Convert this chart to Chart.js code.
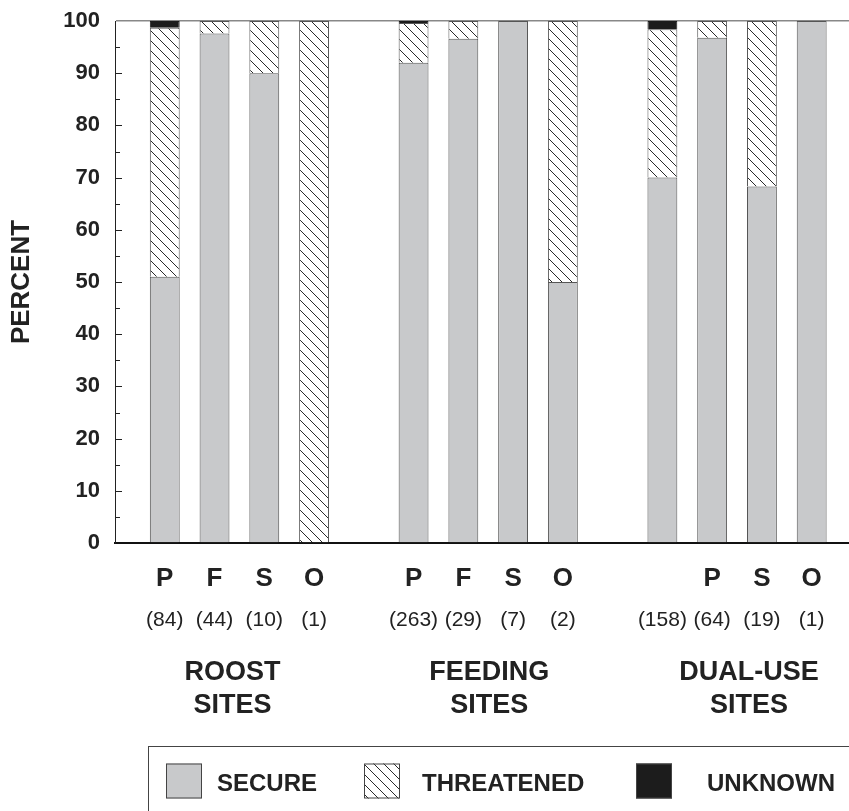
<!DOCTYPE html>
<html>
<head>
<meta charset="utf-8">
<script src="https://cdn.jsdelivr.net/npm/chart.js@4.4.1/dist/chart.umd.min.js"></script>
<style>
	body { margin: 0; background: #fff; }
	#wrap { width: 849px; height: 811px; }
</style>
</head>
<body>
<div id="wrap"><canvas id="canvasSites" width="849" height="811"></canvas></div>
<script>
"use strict";

// values (percent of sites)
var groups = ['ROOST SITES', 'FEEDING SITES', 'DUAL-USE SITES'];
var letters = ['P', 'F', 'S', 'O', 'P', 'F', 'S', 'O', '', 'P', 'S', 'O'];
var counts = [84, 44, 10, 1, 263, 29, 7, 2, 158, 64, 19, 1];
var secure = [51, 97.6, 90, 0, 92, 96.6, 100, 50, 70, 96.8, 68.3, 100];
var threatened = [47.7, 2.4, 10, 100, 7.6, 3.4, 0, 50, 28.4, 3.2, 31.7, 0];
var unknown = [1.3, 0, 0, 0, 0.4, 0, 0, 0, 1.6, 0, 0, 0];
var yTicks = [0, 10, 20, 30, 40, 50, 60, 70, 80, 90, 100];

var perGroup = 4;
var textColor = '#222';
var fontFamily = '"Liberation Sans", Arial, Helvetica, sans-serif';

// slot of each bar on the x axis, one empty slot between groups
function SlotOf(index) {
	var g = Math.floor(index / perGroup);
	return g * (perGroup + 1) + (index % perGroup) + 1;
}

function Each(list, fn) {
	for (var i = 0; i < list.length; i++) fn(i, list[i]);
}

function ToPoints(values) {
	var points = [];
	Each(values, function (i, v) {
		points.push({ x: SlotOf(i), y: v });
	});
	return points;
}

function MakeHatch() {
	var c = document.createElement('canvas');
	c.width = 10;
	c.height = 10;
	var g = c.getContext('2d');
	g.fillStyle = '#fff';
	g.fillRect(0, 0, 10, 10);
	g.strokeStyle = '#2a2a2a';
	g.lineWidth = 1;
	g.beginPath();
	g.moveTo(-1, -1); g.lineTo(11, 11);
	g.moveTo(-1, 9); g.lineTo(1, 11);
	g.moveTo(9, -1); g.lineTo(11, 1);
	g.stroke();
	return g.createPattern(c, 'repeat');
}

var hatch = MakeHatch();
var secureColor = '#c8c9cb';
var unknownColor = '#1c1c1c';

// inner tick marks on the y axis, every 5 percent
var innerTicks = {
	id: 'innerTicks',
	afterDatasetsDraw: function (chart) {
		var ctx = chart.ctx;
		var y = chart.scales.y;
		var x0 = chart.chartArea.left;
		ctx.save();
		ctx.strokeStyle = '#222';
		ctx.lineWidth = 1;
		for (var v = 5; v < 100; v += 5) {
			var py = Math.round(y.getPixelForValue(v)) + 0.5;
			ctx.beginPath();
			ctx.moveTo(x0, py);
			ctx.lineTo(x0 + (v % 10 === 0 ? 7 : 5), py);
			ctx.stroke();
		}
		ctx.restore();
	}
};

// letters, sample sizes, group names and the boxed legend under the plot
var labelShift = [-7, 1, 12];
var underLabels = {
	id: 'underLabels',
	afterDraw: function (chart) {
		var ctx = chart.ctx;
		var xs = chart.scales.x;
		var bottom = chart.chartArea.bottom;
		ctx.save();
		ctx.fillStyle = textColor;
		ctx.textAlign = 'center';
		ctx.textBaseline = 'alphabetic';

		Each(letters, function (i, l) {
			var px = xs.getPixelForValue(SlotOf(i));
			ctx.font = 'bold 26px ' + fontFamily;
			ctx.fillText(l, px, bottom + 43);
			ctx.font = '21px ' + fontFamily;
			ctx.fillText('(' + counts[i] + ')', px, bottom + 83);
		});

		ctx.font = 'bold 27px ' + fontFamily;
		Each(groups, function (g, name) {
			var a = xs.getPixelForValue(SlotOf(g * perGroup));
			var b = xs.getPixelForValue(SlotOf(g * perGroup + perGroup - 1));
			var words = name.split(' ');
			var cx = (a + b) / 2 + labelShift[g];
			ctx.fillText(words[0], cx, bottom + 137);
			ctx.fillText(words[1], cx, bottom + 170);
		});

		// legend box
		var boxTop = bottom + 203.5;
		ctx.strokeStyle = '#444';
		ctx.lineWidth = 1;
		ctx.strokeRect(148.5, boxTop, chart.width, 100);

		var swatchX = [166, 364, 636];
		var legendTextX = [217, 422, 707];
		ctx.textAlign = 'left';
		ctx.font = 'bold 24px ' + fontFamily;
		Each(chart.data.datasets, function (i, ds) {
			var sx = swatchX[i];
			ctx.fillStyle = ds.backgroundColor;
			ctx.fillRect(sx, boxTop + 17, 36, 35);
			ctx.strokeStyle = '#444';
			ctx.strokeRect(sx + 0.5, boxTop + 17.5, 35, 34);
			ctx.fillStyle = textColor;
			ctx.fillText(ds.label, legendTextX[i], boxTop + 44);
		});
		ctx.restore();
	}
};

var context = document.getElementById('canvasSites');
var myChart = new Chart(context, {
	type: 'bar',
	data: {
		datasets: [{
			label: 'SECURE',
			data: ToPoints(secure),
			backgroundColor: secureColor,
			borderColor: '#555',
			borderWidth: 1
		}, {
			label: 'THREATENED',
			data: ToPoints(threatened),
			backgroundColor: hatch,
			borderColor: '#555',
			borderWidth: 1
		}, {
			label: 'UNKNOWN',
			data: ToPoints(unknown),
			backgroundColor: unknownColor,
			borderColor: unknownColor,
			borderWidth: 1
		}]
	},
	plugins: [innerTicks, underLabels],
	options: {
		responsive: false,
		animation: false,
		barPercentage: 0.6,
		categoryPercentage: 1,
		layout: {
			padding: { top: 21, right: 0, bottom: 268, left: 0 }
		},
		plugins: {
			legend: { display: false },
			tooltip: { enabled: false }
		},
		scales: {
			x: {
				type: 'linear',
				stacked: true,
				offset: false,
				min: 0,
				max: 14.75,
				grid: { display: false, drawTicks: false },
				ticks: { display: false },
				border: { display: true, color: '#111', width: 2 }
			},
			y: {
				stacked: true,
				min: 0,
				max: 100,
				afterBuildTicks: function (scale) {
					scale.ticks = yTicks.map(function (v) { return { value: v }; });
				},
				afterFit: function (scale) {
					scale.width = 115;
					scale.paddingTop = 0;
					scale.paddingBottom = 0;
				},
				grid: {
					drawTicks: false,
					lineWidth: 1.5,
					color: function (c) {
						return c.tick && c.tick.value === 100 ? '#888' : 'rgba(0,0,0,0)';
					}
				},
				border: { display: true, color: '#222', width: 1 },
				ticks: {
					padding: 15,
					color: textColor,
					font: { family: fontFamily, size: 22, weight: 'bold' }
				},
				title: {
					display: true,
					text: 'PERCENT',
					color: textColor,
					padding: { top: 6, bottom: 0 },
					font: { family: fontFamily, size: 26, weight: 'bold' }
				}
			}
		}
	}
});
</script>
</body>
</html>
